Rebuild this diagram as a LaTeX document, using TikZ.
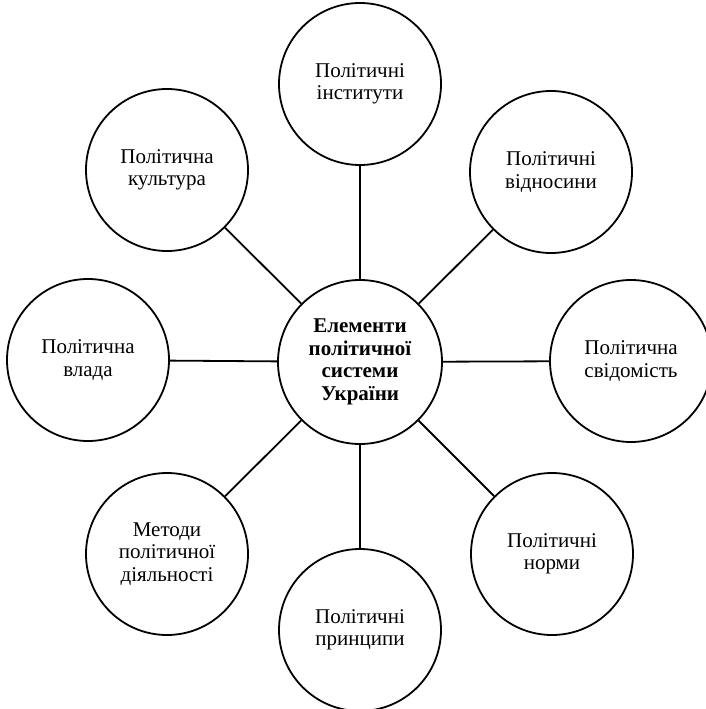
\documentclass[tikz,border=0pt]{standalone}
\usepackage{fontspec}
\setmainfont{Liberation Serif}
\begin{document}
\begin{tikzpicture}[x=1pt,y=-1pt,
  elem/.style={circle, draw, line width=1.8pt, minimum size=162pt, inner sep=0pt,
    align=center, font=\fontsize{21}{22.5}\selectfont},
  hub/.style={elem, minimum size=164pt, font=\fontsize{21}{22.7}\selectfont\bfseries},
  link/.style={line width=1.8pt}]
\useasboundingbox (0,0) rectangle (705,709);
\node[hub] (c) at (360,362) {Елементи\\політичної\\системи\\України};
\node[elem] (t)  at (360,84)  {Політичні\\інститути};
\node[elem] (tr) at (551,172) {Політичні\\відносини};
\node[elem] (r)  at (631,361) {Політична\\свідомість};
\node[elem] (br) at (552,554) {Політичні\\норми};
\node[elem] (b)  at (360,630) {Політичні\\принципи};
\node[elem] (bl) at (167,554) {Методи\\політичної\\діяльності};
\node[elem] (l)  at (88,360)  {Політична\\влада};
\node[elem] (tl) at (167,170) {Політична\\культура};
\foreach \n in {t,tr,r,br,b,bl,l,tl}{\draw[link] (c) -- (\n);}
\end{tikzpicture}
\end{document}
